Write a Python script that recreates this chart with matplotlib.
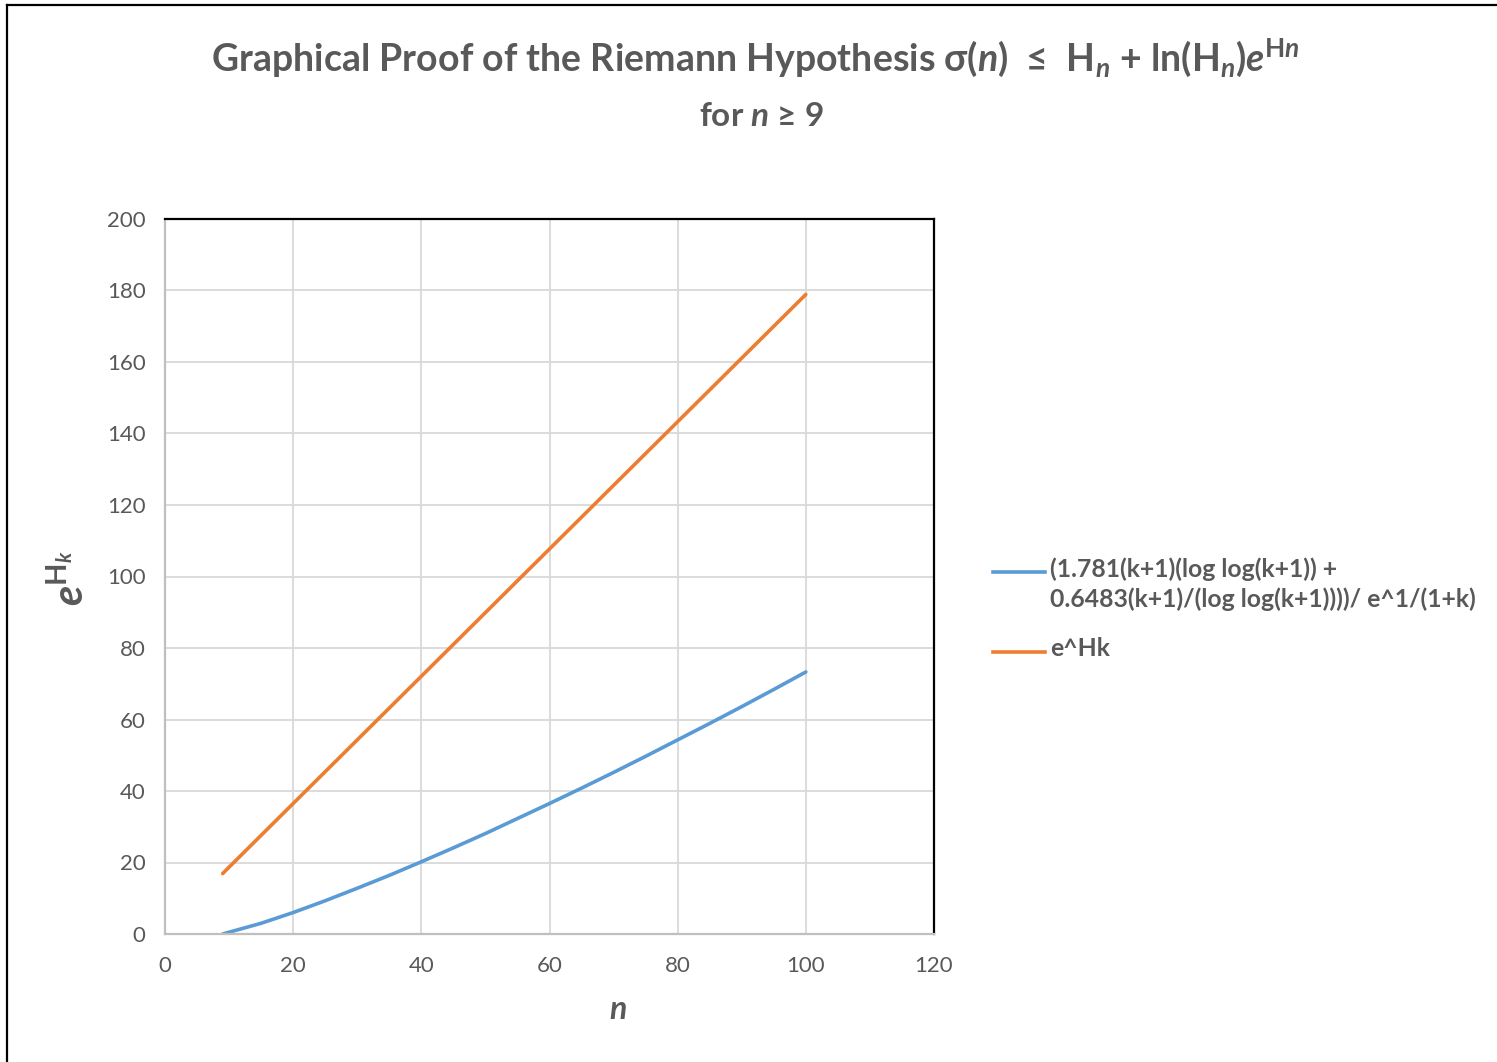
import matplotlib
matplotlib.use("Agg")
import matplotlib.pyplot as plt
from matplotlib.lines import Line2D

plt.rcParams['font.family'] = ['Lato', 'DejaVu Sans']
plt.rcParams['mathtext.fontset'] = 'custom'
plt.rcParams['mathtext.rm'] = 'Lato'
plt.rcParams['mathtext.it'] = 'Lato:italic'
plt.rcParams['mathtext.bf'] = 'Lato:bold'
plt.rcParams['mathtext.bfit'] = 'Lato:bold:italic'

# values
n_vals = [9, 10, 15, 20, 25, 30, 35, 40, 45, 50, 55, 60, 65, 70, 75, 80, 85, 90, 95, 100]
bound_vals = [0.0, 0.5, 3.0, 6.0, 9.3, 12.8, 16.4, 20.2, 24.1, 28.1, 32.3, 36.5,
              40.8, 45.2, 49.7, 54.3, 58.9, 63.6, 68.4, 73.3]
eh_vals = [16.9, 18.7, 27.6, 36.5, 45.4, 54.3, 63.2, 72.1, 81.0, 89.9, 98.8, 107.7,
           116.6, 125.5, 134.4, 143.3, 152.2, 161.1, 170.0, 178.9]

label_bound = "(1.781(k+1)(log log(k+1)) +\n0.6483(k+1)/(log log(k+1))))/ e^1/(1+k)"
label_eh = "e^Hk"

blue = '#5B9BD5'
orange = '#ED7D31'
grey = '#595959'
W, H = 1497, 1062
fig = plt.figure(figsize=(W / 100, H / 100), dpi=100)
ax = fig.add_axes([165 / W, 1 - 934 / H, (934 - 165) / W, (934 - 219) / H])

ax.plot(n_vals, bound_vals, color=blue, lw=2.6, solid_capstyle='round')
ax.plot(n_vals, eh_vals, color=orange, lw=2.6, solid_capstyle='round')

ax.set_xlim(0, 120)
ax.set_ylim(0, 200)
ax.set_xticks(range(0, 121, 20))
ax.set_yticks(range(0, 201, 20))
ax.grid(True, color='#D9D9D9', lw=1.3)
ax.set_axisbelow(True)
ax.tick_params(length=0, labelsize=16, labelcolor=grey)
ax.tick_params(axis='x', pad=16)
ax.tick_params(axis='y', pad=14)
for s in ['left', 'bottom']:
    ax.spines[s].set_color('#BFBFBF')
    ax.spines[s].set_linewidth(1.6)
for s in ['top', 'right']:
    ax.spines[s].set_color('black')
    ax.spines[s].set_linewidth(1.6)

fig.text(755 / W, 1 - 58 / H,
         r"Graphical Proof of the Riemann Hypothesis σ($\mathbfit{n}$)  ≤  H$_{\mathbfit{n}}$ + ln(H$_{\mathbfit{n}}$)$\mathbfit{e}^{\mathbf{H}\mathbfit{n}}$",
         ha='center', va='center', fontsize=27, fontweight='bold', color=grey)
fig.text(761 / W, 1 - 117 / H, r"for $\mathbfit{n}$ ≥ 9",
         ha='center', va='center', fontsize=24, fontweight='bold', color=grey)

fig.text(70 / W, 1 - 578 / H, r"$\mathbfit{e}^{\mathbf{H}_{\mathbfit{k}}}$",
         ha='center', va='center', rotation=90, fontsize=30, color=grey)
fig.text(618 / W, 1 - 1010 / H, r"$\mathbfit{n}$",
         ha='center', va='center', fontsize=23, color=grey)

# legend drawn by hand: Excel puts the key line level with the first text line
for y_px, col, lab in [(572, blue, label_bound), (652, orange, label_eh)]:
    y = 1 - y_px / H
    fig.add_artist(Line2D([993 / W, 1045 / W], [y, y], transform=fig.transFigure,
                          color=col, lw=2.6))
    fig.text(1050 / W, 1 - (y_px - 15) / H, lab, ha='left', va='top', fontsize=17.8,
             fontweight='bold', color=grey, linespacing=1.35)

# outer frame (top and left edges only visible)
fig.add_artist(Line2D([6.5 / W, 6.5 / W], [0, 1 - 4.5 / H], transform=fig.transFigure,
                      color='black', lw=1.6))
fig.add_artist(Line2D([6.5 / W, 1], [1 - 4.5 / H, 1 - 4.5 / H], transform=fig.transFigure,
                      color='black', lw=1.6))

fig.savefig('out.png', dpi=100)
